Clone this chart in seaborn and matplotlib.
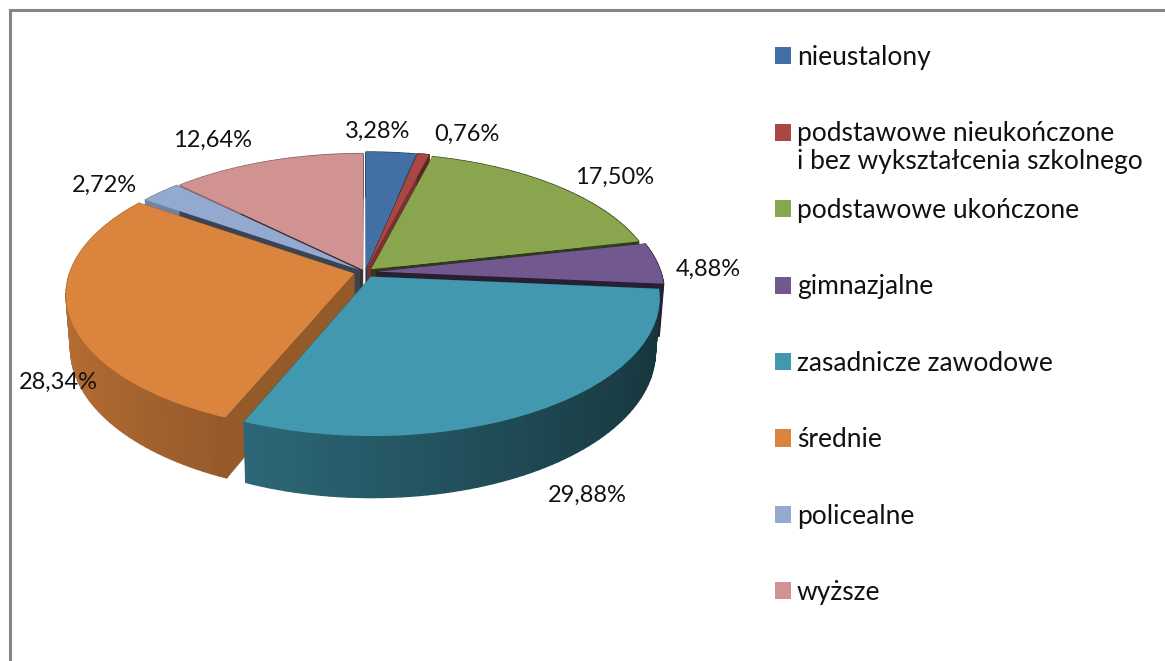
import numpy as np
import matplotlib
matplotlib.use("Agg")
import matplotlib.pyplot as plt
from matplotlib.transforms import Transform
from matplotlib.colors import to_rgb
import seaborn as sns

categories = ["nieustalony", "podstawowe nieukończone", "podstawowe ukończone", "gimnazjalne",
              "zasadnicze zawodowe", "średnie", "policealne", "wyższe"]
values = [3.28, 0.76, 17.50, 4.88, 29.88, 28.34, 2.72, 12.64]
second_line = "i bez wykształcenia szkolnego"
hex_colors = ["#4270A5", "#AA4643", "#89A54E", "#71588F", "#4198AF", "#DB843D", "#93A9CF", "#D19392"]

explode = [0.035, 0.04, 0.03, 0.042, 0.04, 0.04, 0.025, 0.02]
face_shade = [0.55, 0.72, 0.35, 0.35, 0.5, 0.68, 0.4, 0.32]
label_xy = [(378, 131), (467, 134), (615, 177), (708, 269), (587, 495), (58, 382), (104, 185), (213, 140)]

CX, CY, RX, RY, P = 365, 272, 284, 134, 0.15
DEPTH, BASE_SCALE = 52, 0.985

sns.set_theme(style="white")
plt.rcParams["font.family"] = ["Lato", "DejaVu Sans"]
palette = sns.color_palette(hex_colors)


class Persp(Transform):
    input_dims = output_dims = 2
    is_affine = False

    def __init__(self, base=False):
        super().__init__()
        self.base = base

    def transform_non_affine(self, xy):
        xy = np.asarray(xy, float)
        k = 1 / (1 + P * xy[:, 1])
        sx = BASE_SCALE if self.base else 1.0
        px = CX + RX * xy[:, 0] * k * sx
        py = CY - RY * xy[:, 1] * k + (DEPTH * k if self.base else 0)
        return np.column_stack([px, py])


top, bot = Persp(), Persp(base=True)
fig = plt.figure(figsize=(11.65, 6.61), dpi=100)
ax = fig.add_axes([0, 0, 1, 1])
wedges, _ = ax.pie(values, explode=explode, startangle=90, counterclock=False, colors=palette,
                   wedgeprops={"linewidth": 0})
ax.set_aspect("auto")
ax.set_xlim(0, 1165)
ax.set_ylim(661, 0)
ax.axis("off")

order = sorted(range(len(wedges)),
               key=lambda i: -np.sin(np.radians((wedges[i].theta1 + wedges[i].theta2) / 2)))
for z, i in enumerate(order):
    w = wedges[i]
    base = np.array(to_rgb(palette[i]))
    c = np.array(w.center)
    z0 = 2 + z * 3
    for ang in (w.theta1, w.theta2):
        p = c + w.r * np.array([np.cos(np.radians(ang)), np.sin(np.radians(ang))])
        pts = np.array([c, p])
        poly = np.vstack([top.transform(pts), bot.transform(pts)[::-1]])
        ax.fill(poly[:, 0], poly[:, 1], color=base * face_shade[i], lw=0.3, zorder=z0)
    th = np.radians(np.linspace(w.theta1, w.theta2, max(3, int((w.theta2 - w.theta1) / 1.5))))
    pts = c + w.r * np.column_stack([np.cos(th), np.sin(th)])
    a, b = top.transform(pts), bot.transform(pts)
    for j in range(len(th) - 1):
        shade = 0.59 - 0.24 * np.cos((th[j] + th[j + 1]) / 2)
        poly = np.vstack([a[j:j + 2], b[j:j + 2][::-1]])
        ax.fill(poly[:, 0], poly[:, 1], color=np.clip(base * shade, 0, 1), lw=1.0, zorder=z0 + 1)
    w.set_transform(top + ax.transData)
    w.set_zorder(z0 + 2)
    w.set_clip_on(False)

for v, (x, y) in zip(values, label_xy):
    ax.text(x, y, f"{v:.2f}".replace(".", ",") + "%", ha="center", va="center",
            fontsize=17, color="#111111", zorder=60)

ax.plot([9.5, 9.5], [661, 9.5], color="#868686", lw=2.2, solid_capstyle="projecting", zorder=1)
ax.plot([9.5, 1165], [9.5, 9.5], color="#868686", lw=2.2, solid_capstyle="projecting", zorder=1)

leg = ax.legend(wedges, categories, loc="upper left", bbox_to_anchor=(775 / 1165, 1 - 45 / 661),
                bbox_transform=fig.transFigure, frameon=False, fontsize=19, handlelength=0.62,
                handleheight=0.62, handletextpad=0.2, labelspacing=1.95, borderpad=0, borderaxespad=0,
                labelcolor="#111111")
ax.text(797, 162, second_line, fontsize=19, va="center", ha="left", color="#111111", zorder=60)

fig.savefig("out.png", dpi=100)
